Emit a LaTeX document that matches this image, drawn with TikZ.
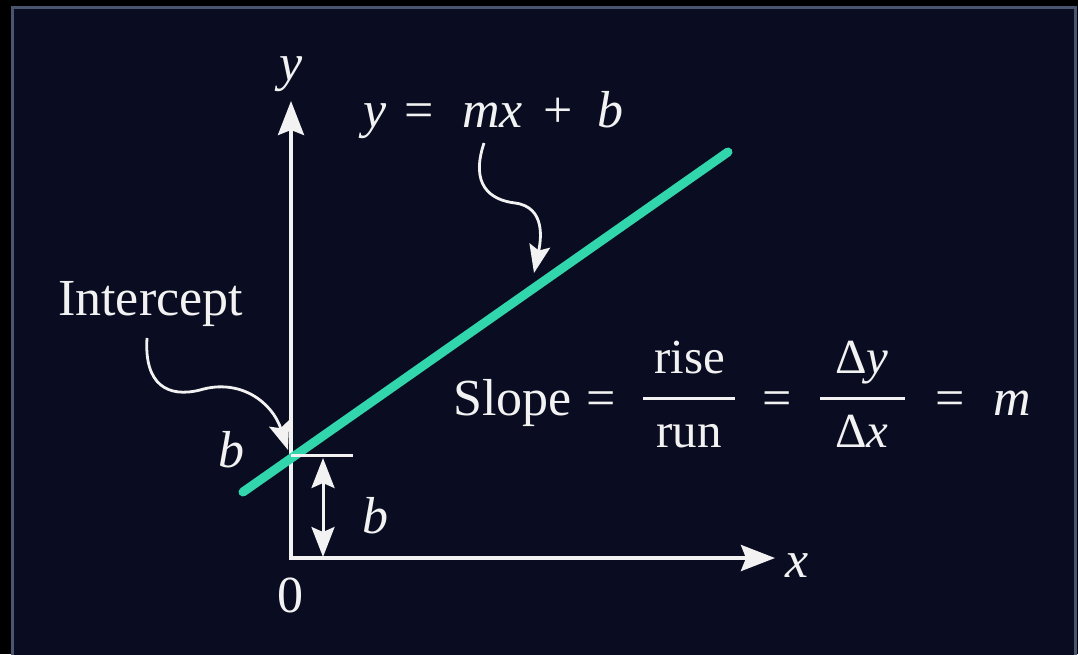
\documentclass[tikz,border=0pt]{standalone}
\usepackage{fontspec}
\setmainfont{Liberation Serif}
\usetikzlibrary{arrows.meta}
\definecolor{navy}{RGB}{10,13,33}
\definecolor{frame}{RGB}{74,86,112}
\definecolor{teal}{RGB}{50,214,172}
\definecolor{fg}{RGB}{242,242,242}
\tikzset{
  lbl/.style={text=fg, inner sep=0pt, anchor=base west, font=\fontsize{52}{56}\selectfont},
  flbl/.style={text=fg, inner sep=0pt, anchor=base, font=\fontsize{49}{53}\selectfont},
  axis/.style={draw=fg, line width=3.6pt, line join=miter},
  bigtip/.tip={Stealth[length=34pt,width=26pt,inset=5pt]},
  midtip/.tip={Stealth[length=30pt,width=23pt,inset=5pt]},
  smalltip/.tip={Stealth[length=28pt,width=21pt,inset=5pt]},
  pointer/.style={draw=fg, line width=2.8pt, -smalltip},
  fracbar/.style={draw=fg, line width=3pt}
}
\begin{document}
\begin{tikzpicture}[x=1pt,y=-1pt]
\useasboundingbox (0,0) rectangle (1078,654);
% background and frame
\fill[black] (0,0) rectangle (1078,654);
\fill[navy] (12,7) rectangle (1075,660);
\draw[frame, line width=3pt] (12,660) -- (12,7) -- (1075,7) -- (1075,660);

% axes
\coordinate (O) at (291,558);
\coordinate (ytip) at (291,101);
\coordinate (xtip) at (775,558);
\draw[axis, bigtip-bigtip] (ytip) -- (O) -- (xtip);
\node[lbl] (ylab) at (279,80) {\textit{y}};
\node[lbl] (xlab) at (785,577) {\textit{x}};
\node[lbl, anchor=base] (zero) at (290,612) {0};

% the line y = mx + b
\coordinate (L1) at (243,492);
\coordinate (L2) at (728,152);
\draw[teal, line width=9pt, line cap=round] (L1) -- (L2);

% intercept marker
\coordinate (B0) at (291,455);
\coordinate (B1) at (353,455);
\draw[fracbar] (B0) -- (B1);
\coordinate (BA) at (323,458);
\coordinate (BB) at (323,557);
\draw[draw=fg, line width=3pt, midtip-midtip] (BA) -- (BB);
\node[lbl] (bright) at (362,533) {\textit{b}};
\node[lbl] (bleft) at (218,467) {\textit{b}};

% Intercept label and pointer
\node[lbl] (intercept) at (58,315) {Intercept};
\coordinate (I0) at (147,338);
\coordinate (I1) at (200,390);
\coordinate (I2) at (288,450);
\draw[pointer] (I0) .. controls (144,385) and (168,398) .. (I1) .. controls (240,378) and (272,402) .. (I2);

% equation label and pointer
\node[lbl] (e1) at (363,127) {\textit{y}};
\node[lbl] (e2) at (404,127) {=};
\node[lbl] (e3) at (462,127) {\textit{mx}};
\node[lbl] (e4) at (543,127) {+};
\node[lbl] (e5) at (597,127) {\textit{b}};
\coordinate (M0) at (484,143);
\coordinate (M1) at (515,203);
\coordinate (M2) at (534,273);
\draw[pointer] (M0) .. controls (470,185) and (490,200) .. (M1) .. controls (546,207) and (541,240) .. (M2);

% slope formula
\node[lbl] (slope) at (453,415) {Slope};
\node[lbl] (eqa) at (586,415) {=};
\coordinate (F1a) at (643,398);
\coordinate (F1b) at (735,398);
\draw[fracbar] (F1a) -- (F1b);
\node[flbl] (rise) at (690,373) {rise};
\node[flbl] (run) at (689,447) {run};
\node[lbl] (eqb) at (762,415) {=};
\coordinate (F2a) at (820,398);
\coordinate (F2b) at (905,398);
\draw[fracbar] (F2a) -- (F2b);
\node[flbl] (dy) at (862,373) {Δ\textit{y}};
\node[flbl] (dx) at (862,447) {Δ\textit{x}};
\node[lbl] (eqc) at (935,415) {=};
\node[lbl] (m) at (993,415) {\textit{m}};
\end{tikzpicture}
\end{document}
